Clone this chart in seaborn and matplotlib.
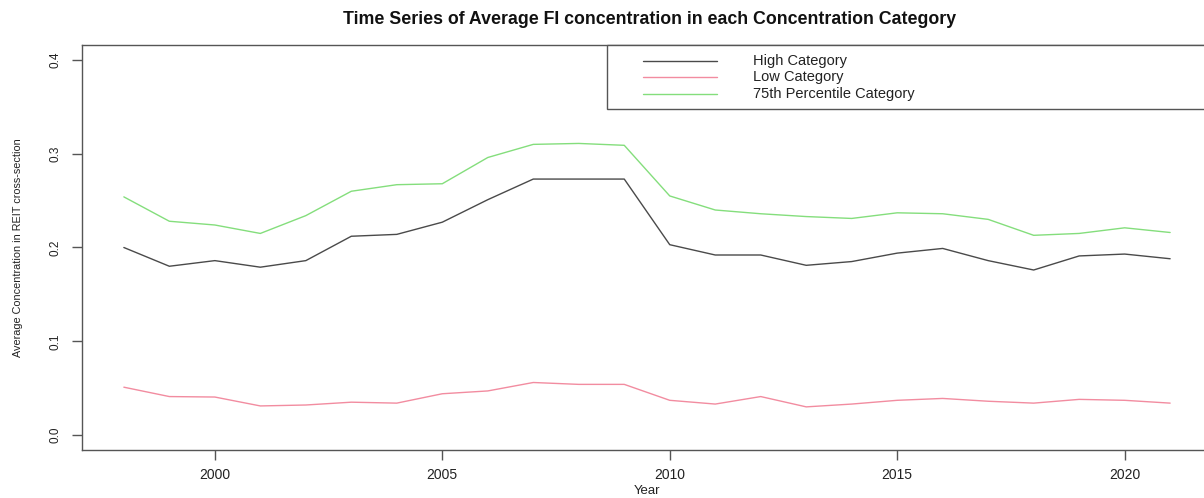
import matplotlib
matplotlib.use("Agg")
import matplotlib.pyplot as plt
from matplotlib.patches import Rectangle
from matplotlib.lines import Line2D
import seaborn as sns
import pandas as pd

years = list(range(1998, 2022))
high_category = [0.200, 0.180, 0.186, 0.179, 0.186, 0.212, 0.214, 0.227, 0.251, 0.273,
                 0.273, 0.273, 0.203, 0.192, 0.192, 0.181, 0.185, 0.194, 0.199, 0.186,
                 0.176, 0.191, 0.193, 0.188]
low_category = [0.051, 0.041, 0.0405, 0.031, 0.032, 0.035, 0.034, 0.044, 0.047, 0.056,
                0.054, 0.054, 0.037, 0.033, 0.041, 0.030, 0.033, 0.037, 0.039, 0.036,
                0.034, 0.038, 0.037, 0.034]
pct75_category = [0.254, 0.228, 0.224, 0.215, 0.234, 0.260, 0.267, 0.268, 0.296, 0.310,
                  0.311, 0.309, 0.255, 0.240, 0.236, 0.233, 0.231, 0.237, 0.236, 0.230,
                  0.213, 0.215, 0.221, 0.216]
series_names = ["High Category", "Low Category", "75th Percentile Category"]
series_colors = ["#4a4a4a", "#F28CA0", "#84DE7C"]
x_ticks = [2000, 2005, 2010, 2015, 2020]
y_ticks = [0.0, 0.1, 0.2, 0.3, 0.4]

df = pd.DataFrame({
    "Year": years * 3,
    "Value": high_category + low_category + pct75_category,
    "Series": [series_names[0]] * len(years) + [series_names[1]] * len(years)
              + [series_names[2]] * len(years),
})

sns.set_theme(style="white")
plt.rcParams["font.family"] = ["Liberation Sans", "DejaVu Sans"]

W, H = 1204, 498
fig = plt.figure(figsize=(W / 100, H / 100), dpi=100)
ax_left, ax_right, ax_top, ax_bottom = 82, 1212, 45, 450
ax = fig.add_axes([ax_left / W, 1 - ax_bottom / H,
                   (ax_right - ax_left) / W, (ax_bottom - ax_top) / H])


def ax_x(px):
    return (px - ax_left) / (ax_right - ax_left)


def ax_y(py):
    return (ax_bottom - py) / (ax_bottom - ax_top)


sns.lineplot(data=df, x="Year", y="Value", hue="Series", palette=series_colors,
             hue_order=series_names, linewidth=1.0, ax=ax, legend=False)

ax.set_xlim(1997.08, 2021.92)
ax.set_ylim(-0.016, 0.416)
ax.set_xticks(x_ticks)
ax.set_xticklabels([str(t) for t in x_ticks])
ax.set_yticks(y_ticks)
ax.set_yticklabels([f"{t:.1f}" for t in y_ticks], rotation=90, va="center")
for s in ax.spines.values():
    s.set_color("#555555")
    s.set_linewidth(1.0)
ax.tick_params(axis="both", direction="out", length=7, width=1.0, color="#555555",
               labelcolor="#222222", left=True, bottom=True)
ax.tick_params(axis="x", labelsize=10, pad=6)
ax.tick_params(axis="y", labelsize=8.5, pad=8)

ax.set_xlabel("Year", fontsize=9.5, color="#222222")
ax.xaxis.set_label_coords(0.5, ax_y(491))
ax.xaxis.label.set_va("center")
ax.set_ylabel("Average Concentration in REIT cross-section", fontsize=7.8,
              color="#222222")
ax.yaxis.set_label_coords(ax_x(18), 0.5)
ax.yaxis.label.set_va("center")

fig.text(650 / W, 1 - 19 / H,
         "Time Series of Average FI concentration in each Concentration Category",
         ha="center", va="center", fontsize=12.8, fontweight="bold", color="#111111")

# legend box in the top-right corner
ax.add_patch(Rectangle((ax_x(607), ax_y(109)), 1.0 - ax_x(607), ax_y(45) - ax_y(109),
                       transform=ax.transAxes, facecolor="white", edgecolor="#555555",
                       linewidth=1.0, zorder=5, clip_on=False))
for name, color, row_y in zip(series_names, series_colors, [61, 77.5, 94]):
    ax.add_line(Line2D([ax_x(643), ax_x(717)], [ax_y(row_y), ax_y(row_y)],
                       transform=ax.transAxes, color=color, lw=1.0, zorder=6))
    ax.text(ax_x(753), ax_y(row_y), name, transform=ax.transAxes, ha="left",
            va="center", fontsize=10.5, color="#222222", zorder=6)

fig.savefig("out.png", dpi=100)
